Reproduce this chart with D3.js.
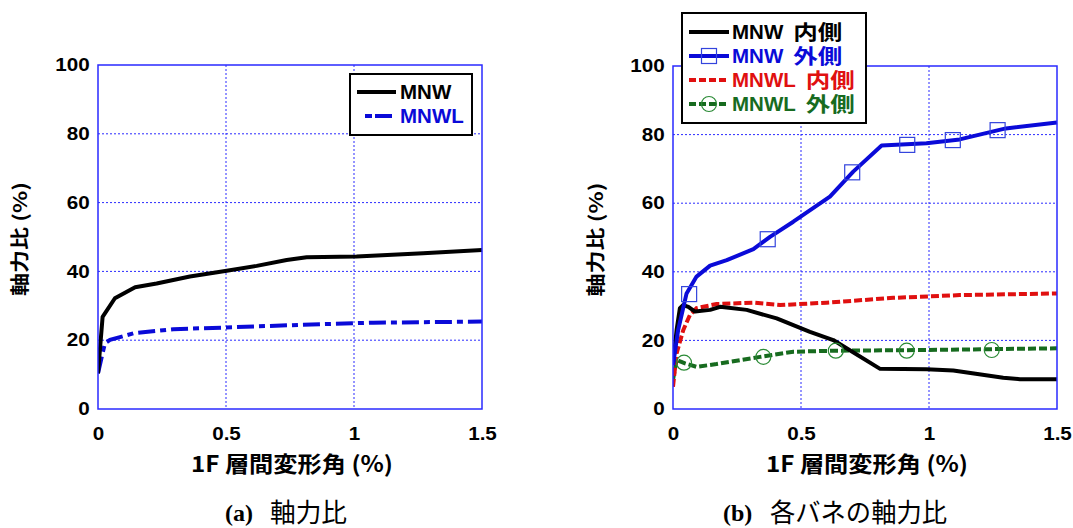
<!DOCTYPE html>
<html><head><meta charset="utf-8">
<script src="https://cdn.jsdelivr.net/npm/d3@7"></script>
<style>
html,body{margin:0;padding:0;background:#fff;}
svg{display:block;}
</style></head>
<body>
<svg id="c" width="1073" height="528"></svg>
<script>
// ---------- DATA ----------
const xTicks = [0, 0.5, 1, 1.5];
const xTickLabels = ["0", "0.5", "1", "1.5"];
const yTicks = [0, 20, 40, 60, 80, 100];
const yTickLabels = ["0", "20", "40", "60", "80", "100"];

// (a) 軸力比
const mnwX  = [0, 0.018, 0.066, 0.145, 0.229, 0.359, 0.503, 0.62, 0.737, 0.815, 1.01, 1.27, 1.5];
const mnwY  = [10.4, 26.8, 32.2, 35.4, 36.5, 38.5, 40.2, 41.6, 43.3, 44.1, 44.3, 45.3, 46.2];
const mnwlX = [0, 0.027, 0.047, 0.138, 0.294, 0.503, 0.802, 1.075, 1.5];
const mnwlY = [10.4, 19.1, 20.1, 22.0, 23.2, 23.7, 24.5, 25.1, 25.4];

// (b) 各バネの軸力比
const mnwInX  = [0, 0.014, 0.027, 0.04, 0.06, 0.086, 0.145, 0.184, 0.288, 0.405, 0.535, 0.626, 0.678, 0.809, 0.99, 1.095, 1.29, 1.355, 1.5];
const mnwInY  = [12.8, 23, 29.4, 30.3, 29.8, 28.4, 28.9, 29.8, 28.9, 26.4, 22.5, 20.1, 17.7, 11.7, 11.6, 11.2, 9.1, 8.7, 8.7];
const mnwOutX = [0, 0.02, 0.053, 0.092, 0.145, 0.21, 0.314, 0.379, 0.47, 0.613, 0.704, 0.815, 0.99, 1.12, 1.30, 1.5];
const mnwOutY = [12.8, 23, 33.7, 38.6, 41.8, 43.4, 46.6, 50.2, 54.6, 61.9, 69.2, 76.8, 77.5, 78.6, 81.8, 83.5];
const mnwOutMarkX = [0.063, 0.37, 0.70, 0.915, 1.093, 1.268];
const mnwOutMarkY = [33.5, 49.5, 69.0, 77.0, 78.4, 81.3];
const mnwlInX = [0, 0.014, 0.04, 0.066, 0.092, 0.17, 0.314, 0.418, 0.6, 0.86, 1.12, 1.5];
const mnwlInY = [6.5, 16.2, 23, 27.4, 29.4, 30.6, 31, 30.3, 31, 32.4, 33.2, 33.7];
const mnwlOutX = [0, 0.014, 0.047, 0.092, 0.17, 0.34, 0.47, 0.64, 0.99, 1.5];
const mnwlOutY = [8.5, 14.3, 13.3, 12.3, 13.1, 15.2, 16.7, 17.0, 17.2, 17.7];
const mnwlOutMarkX = [0.043, 0.353, 0.636, 0.913, 1.245];
const mnwlOutMarkY = [13.5, 15.2, 17.0, 17.0, 17.2];

const legendA = ["MNW", "MNWL"];
const legendB = ["MNW 内側", "MNW 外側", "MNWL 内側", "MNWL 外側"];
const xTitle = "1F 層間変形角 (%)";
const yTitle = "軸力比 (%)";
const captionA = ["(a)", "軸力比"];
const captionB = ["(b)", "各バネの軸力比"];

// ---------- STYLE ----------
const BLACK = "#000000", BLUE = "#0a0ad8", RED = "#e01010", GREEN = "#176b1f";
const GRID = "#2a2aff";
const SANS = "'Liberation Sans', Arial, sans-serif";
const SANS_CJK = "'Liberation Sans', 'Noto Sans CJK JP', sans-serif";
const CJK = "'Noto Sans CJK JP', sans-serif";
const SERIF = "'Liberation Serif', 'Times New Roman', serif";
const LW = 4;

const svg = d3.select("#c");
svg.append("rect").attr("width", 1073).attr("height", 528).attr("fill", "#fff");

function zip(xs, ys) { return xs.map((x, i) => [x, ys[i]]); }

function panel(cfg) {
  const x = d3.scaleLinear().domain([0, 1.5]).range([cfg.x0, cfg.x1]);
  const y = d3.scaleLinear().domain([0, 100]).range([cfg.y1, cfg.y0]);
  const g = svg.append("g");

  // grid
  g.selectAll(".gx").data(xTicks.filter(d => d > 0 && d < 1.5)).enter().append("line")
    .attr("x1", d => x(d)).attr("x2", d => x(d)).attr("y1", cfg.y0).attr("y2", cfg.y1)
    .attr("stroke", GRID).attr("stroke-width", 1).attr("stroke-dasharray", "2,2");
  g.selectAll(".gy").data(yTicks.filter(d => d > 0 && d < 100)).enter().append("line")
    .attr("y1", d => y(d)).attr("y2", d => y(d)).attr("x1", cfg.x0).attr("x2", cfg.x1)
    .attr("stroke", GRID).attr("stroke-width", 1).attr("stroke-dasharray", "2,2");

  // axes (labels only)
  const ax = g.append("g").attr("transform", `translate(0,${cfg.y1})`)
    .call(d3.axisBottom(x).tickValues(xTicks).tickFormat((d, i) => xTickLabels[i]).tickSize(0).tickPadding(19));
  const ay = g.append("g").attr("transform", `translate(${cfg.x0},0)`)
    .call(d3.axisLeft(y).tickValues(yTicks).tickFormat((d, i) => yTickLabels[i]).tickSize(0).tickPadding(7));
  [ax, ay].forEach(a => {
    a.select(".domain").remove();
    a.selectAll("text").attr("font-family", SANS).attr("font-weight", "bold")
      .attr("font-size", 17.5).attr("fill", "#000").attr("transform", "scale(1.18,1)");
  });

  // titles
  g.append("text").attr("x", cfg.xtx).attr("y", 464).attr("dy", "0.36em")
    .attr("text-anchor", "middle").attr("font-family", CJK).attr("font-weight", "bold")
    .attr("font-size", 22).attr("textLength", 202).attr("lengthAdjust", "spacingAndGlyphs").text(xTitle);
  g.append("text").attr("transform", `translate(${cfg.ytx},${(cfg.y0 + cfg.y1) / 2 + 2}) rotate(-90)`)
    .attr("dy", "0.36em").attr("text-anchor", "middle").attr("font-family", CJK)
    .attr("font-weight", "bold").attr("font-size", 19).attr("textLength", 114)
    .attr("lengthAdjust", "spacingAndGlyphs").text(yTitle);

  // caption
  g.append("text").attr("x", cfg.cap0).attr("y", 521).attr("font-family", SERIF)
    .attr("font-weight", "bold").attr("font-size", 24).text(cfg.caption[0]);
  g.append("text").attr("x", cfg.cap1).attr("y", 522).attr("font-family", CJK)
    .attr("font-weight", "normal").attr("font-size", 26).attr("textLength", cfg.capLen)
    .attr("lengthAdjust", "spacingAndGlyphs").text(cfg.caption[1]);

  // clip
  const cid = "clip" + cfg.id;
  svg.append("clipPath").attr("id", cid).append("rect")
    .attr("x", cfg.x0).attr("y", cfg.y0 - 2).attr("width", cfg.x1 - cfg.x0 + 2).attr("height", cfg.y1 - cfg.y0 + 2);
  const plot = g.append("g").attr("clip-path", `url(#${cid})`);
  const line = d3.line().x(d => x(d[0])).y(d => y(d[1]));

  // frame
  g.append("rect").attr("x", cfg.x0).attr("y", cfg.y0).attr("width", cfg.x1 - cfg.x0).attr("height", cfg.y1 - cfg.y0)
    .attr("fill", "none").attr("stroke", GRID).attr("stroke-width", 1.5);

  return { x, y, g, plot, line };
}

function legendText(sel, xx, yy, label, color) {
  const parts = label.split(" ");
  const t = sel.append("text").attr("x", xx).attr("y", yy).attr("dy", "0.36em")
    .attr("font-family", SANS).attr("font-size", 20.5).attr("font-weight", "bold")
    .attr("fill", color).text(parts[0]);
  if (parts[1]) {
    const w = t.node().getComputedTextLength();
    sel.append("text").attr("x", xx + w + 10).attr("y", yy).attr("dy", "0.38em")
      .attr("font-family", SANS_CJK).attr("font-size", 20.5).attr("font-weight", "bold")
      .attr("fill", color).attr("textLength", 49).attr("lengthAdjust", "spacingAndGlyphs").text(parts[1]);
  }
}

// ---------- PANEL A ----------
const A = panel({ id: "a", x0: 98, x1: 482, y0: 65, y1: 409, ytx: 20, xtx: 292,
  cap0: 225, cap1: 270, capLen: 77, caption: captionA });
A.plot.append("path").datum(zip(mnwlX, mnwlY)).attr("d", A.line).attr("fill", "none")
  .attr("stroke", BLUE).attr("stroke-width", LW).attr("stroke-dasharray", "17,5,6,5");
A.plot.append("path").datum(zip(mnwX, mnwY)).attr("d", A.line).attr("fill", "none")
  .attr("stroke", BLACK).attr("stroke-width", LW).attr("stroke-linejoin", "round");

// legend A
const LA = A.g.append("g");
LA.append("rect").attr("x", 350).attr("y", 74).attr("width", 122).attr("height", 61)
  .attr("fill", "#fff").attr("stroke", "#000").attr("stroke-width", 2);
const legAStyle = [{ c: BLACK, dash: null, x1: 357 }, { c: BLUE, dash: "7,3,17,4", x1: 365 }];
legendA.forEach((t, i) => {
  const yy = 92 + i * 24;
  LA.append("line").attr("x1", legAStyle[i].x1).attr("x2", 396).attr("y1", yy).attr("y2", yy)
    .attr("stroke", legAStyle[i].c).attr("stroke-width", LW).attr("stroke-dasharray", legAStyle[i].dash);
  legendText(LA, 400, yy, t, legAStyle[i].c);
});

// ---------- PANEL B ----------
const B = panel({ id: "b", x0: 673, x1: 1057, y0: 66, y1: 409, ytx: 596, xtx: 867,
  cap0: 723, cap1: 770, capLen: 177, caption: captionB });
B.plot.append("path").datum(zip(mnwlOutX, mnwlOutY)).attr("d", B.line).attr("fill", "none")
  .attr("stroke", GREEN).attr("stroke-width", LW).attr("stroke-dasharray", "8,3");
B.plot.append("path").datum(zip(mnwlInX, mnwlInY)).attr("d", B.line).attr("fill", "none")
  .attr("stroke", RED).attr("stroke-width", LW).attr("stroke-dasharray", "8,3");
B.plot.append("path").datum(zip(mnwInX, mnwInY)).attr("d", B.line).attr("fill", "none")
  .attr("stroke", BLACK).attr("stroke-width", LW).attr("stroke-linejoin", "round");
B.plot.append("path").datum(zip(mnwOutX, mnwOutY)).attr("d", B.line).attr("fill", "none")
  .attr("stroke", BLUE).attr("stroke-width", LW).attr("stroke-linejoin", "round");
B.plot.selectAll(".sq").data(zip(mnwOutMarkX, mnwOutMarkY)).enter().append("rect")
  .attr("x", d => B.x(d[0]) - 7.5).attr("y", d => B.y(d[1]) - 7.5).attr("width", 15).attr("height", 15)
  .attr("fill", "none").attr("stroke", "#3344dd").attr("stroke-width", 1.2);
B.plot.selectAll(".ci").data(zip(mnwlOutMarkX, mnwlOutMarkY)).enter().append("circle")
  .attr("cx", d => B.x(d[0])).attr("cy", d => B.y(d[1])).attr("r", 7.5)
  .attr("fill", "none").attr("stroke", "#2a8a35").attr("stroke-width", 1.2);

// legend B
const LB = B.g.append("g");
LB.append("rect").attr("x", 682).attr("y", 13).attr("width", 184).attr("height", 110)
  .attr("fill", "#fff").attr("stroke", "#000").attr("stroke-width", 2);
const legBStyle = [
  { c: BLACK, dash: null, m: null },
  { c: BLUE, dash: null, m: "sq" },
  { c: RED, dash: "7,3", m: null },
  { c: GREEN, dash: "7,3", m: "ci" }
];
legendB.forEach((t, i) => {
  const yy = 32 + i * 24;
  const s = legBStyle[i];
  LB.append("line").attr("x1", 689).attr("x2", 729).attr("y1", yy).attr("y2", yy)
    .attr("stroke", s.c).attr("stroke-width", LW).attr("stroke-dasharray", s.dash);
  if (s.m === "sq") LB.append("rect").attr("x", 701.5).attr("y", yy - 7.5).attr("width", 15).attr("height", 15)
    .attr("fill", "none").attr("stroke", "#3344dd").attr("stroke-width", 1.2);
  if (s.m === "ci") LB.append("circle").attr("cx", 709).attr("cy", yy).attr("r", 7.5)
    .attr("fill", "none").attr("stroke", "#2a8a35").attr("stroke-width", 1.2);
  legendText(LB, 732, yy, t, s.c);
});
</script>
</body></html>
